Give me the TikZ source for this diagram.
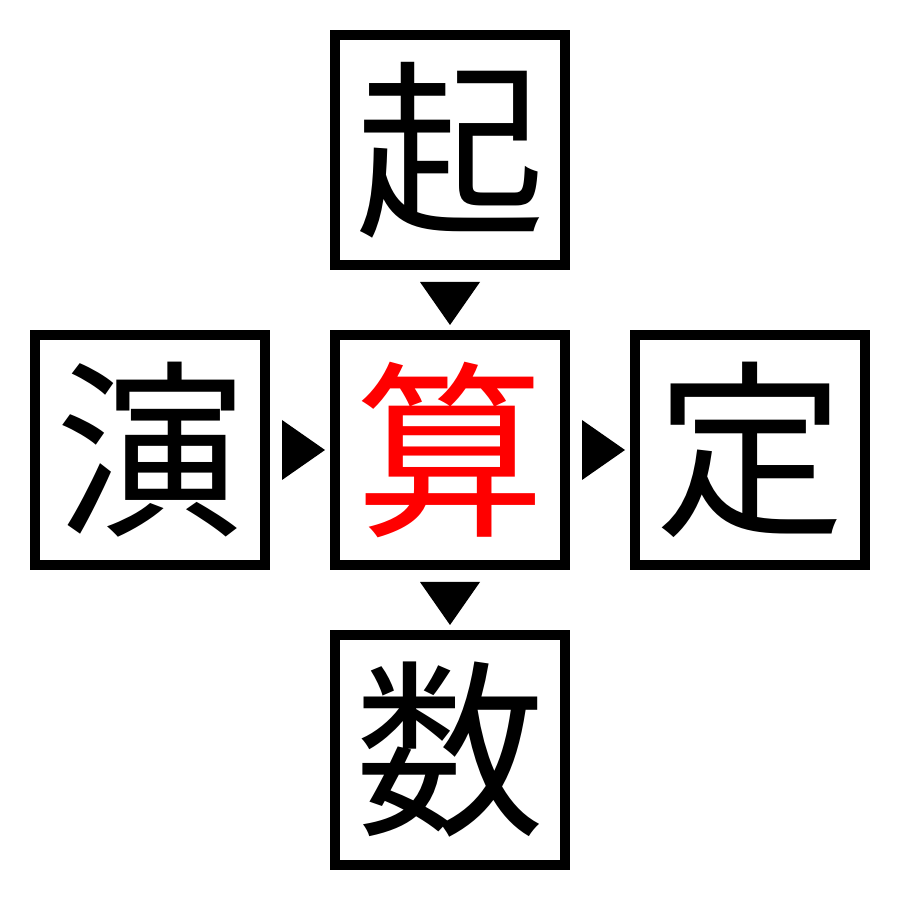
\documentclass[tikz,border=0pt]{standalone}
\usepackage{fontspec}
\newfontfamily\cjk{Noto Sans CJK JP}
\usetikzlibrary{positioning,calc}

\tikzset{
  zibox/.style={draw=black, line width=1mm, minimum size=23mm, inner sep=0pt,
    font=\cjk\fontsize{54}{54}\selectfont},
  tipfill/.style={fill=black},
}

\begin{document}
\begin{tikzpicture}[node distance=6mm]
\useasboundingbox (0,0) rectangle (9,9);
\node[zibox, text=red] (suan) at (4.5,4.5) {算};
\node[zibox, above=of suan] (qi) {起};
\node[zibox, below=of suan] (shu) {数};
\node[zibox, left=of suan] (yan) {演};
\node[zibox, right=of suan] (ding) {定};
% pointers between the boxes
\fill[tipfill] ($(qi.south)+(-0.3,-0.12)$) -- ++(0.6,0) -- ($(qi.south)+(0,-0.55)$) -- cycle;
\fill[tipfill] ($(suan.south)+(-0.3,-0.12)$) -- ++(0.6,0) -- ($(suan.south)+(0,-0.55)$) -- cycle;
\fill[tipfill] ($(yan.east)+(0.12,0.3)$) -- ++(0,-0.6) -- ($(yan.east)+(0.55,0)$) -- cycle;
\fill[tipfill] ($(suan.east)+(0.12,0.3)$) -- ++(0,-0.6) -- ($(suan.east)+(0.55,0)$) -- cycle;
\end{tikzpicture}
\end{document}
